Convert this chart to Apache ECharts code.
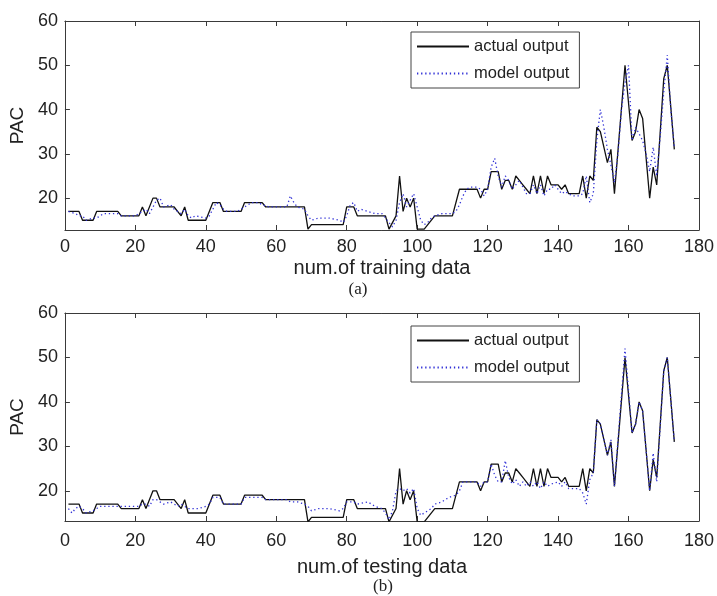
<!DOCTYPE html>
<html>
<head>
<meta charset="utf-8">
<script src="https://cdn.jsdelivr.net/npm/echarts@6/dist/echarts.min.js"></script>
<style>html,body{margin:0;padding:0;background:#fff}#c{width:717px;height:596px}</style>
</head>
<body>
<div id="c"></div>
<script>
// ---- data (index, PAC) ----
const actualPoints = [[1,17],[4,17],[5,15],[8,15],[9,17],[15,17],[16,16],[21,16],[22,18],[23,16],[25,20],[26,20],[27,18],[31,18],[33,16],[34,18],[35,15],[40,15],[42,19],[44,19],[45,17],[50,17],[51,19],[56,19],[57,18],[68,18],[69,13],[70,14],[79,14],[80,18],[82,18],[83,16],[91,16],[92,13],[94,16],[95,25],[96,17],[97,20],[98,18],[99,20],[100,13],[102,13],[105,16],[110,16],[112,22],[117,22],[118,20],[119,22],[120,22],[121,26],[123,26],[124,22],[125,24],[126,24],[127,22],[128,25],[129,24],[130,23],[131,22],[132,21],[133,25],[134,21],[135,25],[136,21],[137,25],[138,23],[140,23],[141,22],[142,23],[143,21],[146,21],[147,25],[148,20],[149,25],[150,24],[151,36],[152,35],[154,28],[155,31],[156,21],[159,50],[161,33],[162,35],[163,40],[164,38],[166,20],[167,27],[168,23],[170,47],[171,50],[173,31]];
const modelTrainPoints = [[1,17],[3,16.5],[4,16],[5,16],[6,15],[8,15.5],[9,15.5],[10,16],[11,16.5],[15,16.5],[16,16],[20,16],[21,16.5],[22,17],[23,17.5],[24,16.5],[25,18],[26,19.5],[27,20],[28,18],[30,18.5],[31,17.5],[32,17],[33,16.5],[34,17.5],[35,16],[36,15.5],[37,16],[40,15.5],[41,16],[42,17.5],[43,19],[44,18.5],[45,17.5],[46,17],[49,17],[50,17.5],[51,18],[52,18.5],[53,19],[55,19],[56,18.5],[58,18],[63,18],[64,20.5],[65,19],[66,18],[68,17.5],[69,16],[70,15],[72,15.5],[75,15.5],[78,15],[79,14.5],[80,16],[81,18.5],[82,19],[83,17],[84,17.5],[86,17],[88,16.5],[90,16.5],[91,15.5],[92,14.5],[93,13.5],[94,15],[95,19],[96,21],[97,18],[98,19.5],[99,21],[100,18],[101,15],[102,14],[103,14.5],[104,15.5],[105,16],[107,16.5],[110,16.5],[111,17],[112,18.5],[113,20.5],[114,22],[115,22.5],[117,22.5],[118,22],[119,20.5],[120,22],[121,27],[122,29],[123,25],[124,22.5],[125,25],[126,24],[127,22],[128,23],[129,24],[130,22.5],[131,21],[132,21],[133,23],[134,21],[135,23],[136,20.5],[137,22],[138,22],[139,23],[140,22],[141,21],[142,21.5],[143,21],[144,20.5],[146,20.5],[147,21],[148,25],[149,19],[150,21],[151,33],[152,40],[153,36],[154,31],[155,27.5],[156,23.5],[157,30],[158,40],[159,46],[160,50],[161,33],[162,36],[163,34.5],[164,33],[165,30],[166,26],[167,31.5],[168,25],[169,34],[170,44],[171,52.3],[172,40],[173,31.5]];
const modelTestPoints = [[1,16],[2,15],[3,16],[4,16.5],[5,16],[6,15],[8,15.5],[9,16],[10,16.5],[16,16.5],[21,16.5],[22,17],[23,17],[24,16.5],[25,18],[26,18],[27,17.5],[28,17],[30,17.5],[31,17],[32,16.5],[33,17],[34,16.5],[35,16],[38,16],[40,16.5],[41,17],[42,18.5],[44,18.5],[45,17],[50,17],[51,18.5],[56,18.5],[57,18],[63,18],[64,17.5],[66,17.5],[68,17],[69,16.5],[70,15.5],[72,16],[75,16],[78,15.5],[79,16],[80,17.5],[82,17.5],[83,17],[86,17.5],[88,16.5],[90,16],[91,15],[92,13.5],[93,15.5],[94,20],[95,20.5],[96,20],[97,20.5],[98,19.5],[99,20.5],[100,16],[101,14.5],[102,15],[103,15.5],[104,16],[105,17],[107,17.5],[109,18.5],[111,19],[112,20],[113,22],[117,22],[118,21],[119,22],[120,22],[121,26],[122,23.5],[123,22],[124,22],[125,26.8],[126,23],[127,21.5],[128,22.5],[129,21],[130,22],[131,21],[132,22],[133,21],[134,22],[135,20.5],[136,22],[137,21],[138,21.5],[140,22],[141,21],[142,22],[143,20.5],[146,20.5],[147,19.5],[148,17],[149,22.5],[150,24],[151,36],[152,35],[154,28],[155,31.5],[156,21],[159,52],[161,33],[162,35],[163,40],[164,38],[166,20],[167,28.5],[168,22],[170,47],[171,50],[173,31]];
const yTicks = [20, 30, 40, 50, 60];
const seriesNames = ['actual output', 'model output'];
const xTitles = ['num.of training data', 'num.of testing data'];
const panelTags = ['(a)', '(b)'];
const yTitle = 'PAC';

// ---- chart ----
const FONT = '"Liberation Sans", Arial, sans-serif';
const AX = '#3a3a3a';
const grids = [{left:62, top:21, width:641, height:209}, {left:62, top:313, width:641, height:208}];
const yMin = [12.8, 13.2];

function xAxes(g) {
  return [
    {gridIndex:g, type:'value', min:0, max:180, interval:20, position:'bottom',
     axisLine:{show:true, onZero:false, lineStyle:{color:AX, width:1}},
     axisTick:{show:true, inside:true, length:5, lineStyle:{color:AX}},
     axisLabel:{color:'#222', fontSize:18, fontFamily:FONT, margin:g===0?8:11},
     splitLine:{show:false},
     name:xTitles[g], nameLocation:'middle', nameGap:g===0?28:36,
     nameTextStyle:{color:'#222', fontSize:20, fontFamily:FONT}},
    {gridIndex:g, type:'value', min:0, max:180, interval:20, position:'top',
     axisLine:{show:true, onZero:false, lineStyle:{color:AX, width:1}},
     axisTick:{show:true, inside:true, length:5, lineStyle:{color:AX}},
     axisLabel:{show:false}, splitLine:{show:false}}
  ];
}
function yAxes(g) {
  return [
    {gridIndex:g, type:'value', min:yMin[g], max:60, position:'left',
     axisLine:{show:true, onZero:false, lineStyle:{color:AX, width:1}},
     axisTick:{show:true, inside:true, length:5, lineStyle:{color:AX}, customValues:yTicks},
     axisLabel:{color:'#222', fontSize:18, fontFamily:FONT, margin:7, customValues:yTicks},
     splitLine:{show:false},
     name:yTitle, nameLocation:'middle', nameGap:31, nameRotate:90,
     nameTextStyle:{color:'#222', fontSize:19, fontFamily:FONT}},
    {gridIndex:g, type:'value', min:yMin[g], max:60, position:'right',
     axisLine:{show:true, onZero:false, lineStyle:{color:AX, width:1}},
     axisTick:{show:true, inside:true, length:5, lineStyle:{color:AX}, customValues:yTicks},
     axisLabel:{show:false}, splitLine:{show:false}}
  ];
}
function legend(top) {
  return {left:411, top:top, orient:'vertical', data:seriesNames,
    backgroundColor:'#fff', borderColor:'#444', borderWidth:1, borderRadius:0,
    padding:[6,10,6,5], itemWidth:52, itemHeight:12, itemGap:10,
    itemStyle:{color:'rgba(0,0,0,0)', borderWidth:0, opacity:0},
    textStyle:{color:'#222', fontSize:16.5, fontFamily:FONT}};
}
function lineSeries(name, pts, xi, yi, solid) {
  return {name:name, type:'line', xAxisIndex:xi, yAxisIndex:yi, data:pts,
    symbol:'none', showSymbol:false, smooth:false, clip:true,
    lineStyle: solid ? {color:'#111', width:1.3, type:'solid'} : {color:'#2f2fd6', width:1.3, type:[1.3,2.8]},
    itemStyle:{color: solid ? '#111' : '#2f2fd6'}, z: solid ? 2 : 3};
}

const chart = echarts.init(document.getElementById('c'), null, {renderer:'canvas'});
chart.setOption({
  animation:false,
  backgroundColor:'#fff',
  grid:grids,
  xAxis:[...xAxes(0), ...xAxes(1)],
  yAxis:[...yAxes(0), ...yAxes(1)],
  legend:[legend(32), legend(326)],
  graphic:[
    {type:'text', x:358, y:290, style:{text:panelTags[0], font:'17px "Liberation Serif", "Times New Roman", serif', fill:'#222', textAlign:'center', textVerticalAlign:'middle'}},
    {type:'text', x:383, y:587, style:{text:panelTags[1], font:'17px "Liberation Serif", "Times New Roman", serif', fill:'#222', textAlign:'center', textVerticalAlign:'middle'}}
  ],
  series:[
    lineSeries(seriesNames[0], actualPoints, 0, 0, true),
    lineSeries(seriesNames[1], modelTrainPoints, 0, 0, false),
    lineSeries(seriesNames[0], actualPoints, 2, 2, true),
    lineSeries(seriesNames[1], modelTestPoints, 2, 2, false)
  ]
});
</script>
</body>
</html>
